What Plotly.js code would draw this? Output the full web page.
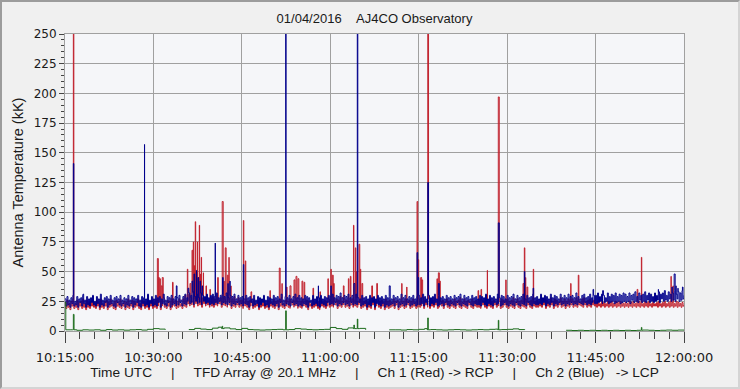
<!DOCTYPE html>
<html><head><meta charset="utf-8">
<script src="https://cdn.plot.ly/plotly-3.0.1.min.js"></script>
<style>
html,body{margin:0;padding:0;background:#F0F0F0;}
#wrap{position:relative;width:740px;height:389px;overflow:hidden;}
#chart{width:740px;height:389px;}
#frame{position:absolute;left:0;top:0;width:740px;height:389px;box-sizing:border-box;border:2px solid;border-color:#9c9c9c #d4d4d4 #d4d4d4 #9c9c9c;pointer-events:none;}
</style></head>
<body>
<div id="wrap"><div id="chart"></div><div id="frame"></div></div>
<script>
// ---------- DATA ----------
const startTime = '2016-01-04 10:15:00';
const endTime = '2016-01-04 12:00:00';
const baseStepSec = 10;   // sample spacing of red/blue baseline arrays
const greenStepSec = 60;  // sample spacing of green baseline array

// Ch 2 (Blue, LCP) baseline, one row = 5 minutes
const blueBase = [
 27,21,29,22,26,20,28,23,30,21,25,22,29,20,27,24,28,21,30,23,26,20,29,22,27,21,28,24,30,22,
 25,21,29,23,27,20,31,22,26,21,28,24,29,20,27,22,30,23,26,21,28,20,29,24,27,22,30,21,26,23,
 28,20,27,22,30,21,26,23,29,20,28,22,27,24,30,21,26,20,29,23,28,21,27,22,31,20,26,23,29,21,
 27,22,30,21,28,24,29,20,27,23,31,22,26,21,29,24,28,20,30,22,27,23,29,21,28,22,30,24,26,21,
 29,23,31,22,28,25,32,23,30,24,33,22,29,25,31,23,28,24,32,22,30,25,29,23,31,24,28,22,30,23,
 31,22,29,24,32,23,28,25,30,22,31,24,29,23,32,22,28,24,30,21,29,23,31,22,27,24,30,22,28,23,
 29,21,27,23,30,22,28,20,29,24,27,21,30,22,26,23,29,20,28,22,27,24,30,21,26,22,29,20,28,23,
 27,22,30,21,28,23,29,20,27,24,31,22,26,21,29,23,28,22,30,21,27,24,29,22,31,23,28,21,30,22,
 28,21,27,23,30,22,29,20,28,24,26,21,30,22,27,23,29,21,28,20,30,23,27,22,29,21,28,24,30,22,
 29,23,31,22,28,24,30,21,29,23,32,22,28,24,30,22,29,23,31,21,28,24,30,22,29,23,31,22,28,24,
 27,21,30,22,28,23,29,20,27,22,30,21,28,24,29,20,27,23,30,22,28,21,29,23,27,20,30,22,28,21,
 29,22,27,23,30,21,28,24,29,20,27,22,31,23,28,21,30,22,27,24,29,21,28,22,30,23,27,21,29,22,
 30,22,28,23,31,21,29,24,27,22,30,21,28,23,29,22,31,24,27,21,30,22,28,23,29,21,27,24,30,22,
 28,21,29,23,27,22,30,21,28,24,29,22,31,21,27,23,30,22,28,21,29,24,27,22,30,21,28,23,29,22,
 27,22,30,21,29,24,28,22,31,21,27,23,30,22,28,21,29,24,27,22,31,23,28,21,30,22,29,24,27,22,
 30,21,28,23,29,22,31,21,27,24,30,22,28,21,29,23,31,22,27,21,30,24,28,22,29,21,31,23,28,22,
 29,22,27,23,31,22,28,24,30,21,29,23,27,22,31,24,28,21,30,23,29,22,27,24,31,22,28,23,30,21,
 28,23,31,22,29,24,30,22,28,23,32,22,29,24,27,23,30,22,31,24,28,22,29,23,31,22,28,24,30,23,
 30,23,32,24,29,25,31,23,30,24,28,25,32,23,29,24,31,25,30,23,32,24,29,25,31,23,30,24,32,25,
 31,24,29,25,32,23,30,26,31,24,33,25,29,24,32,26,30,24,31,25,33,24,30,26,32,24,31,25,29,24,
 32,25,30,26,33,24,31,27,32,25,34,26,30,25,33,27,31,25,32,26,34,25,31,27,33,25,32,26,34,27,
 30
];

// Ch 1 (Red, RCP) baseline, one row = 5 minutes
const redBase = [
 24,19,26,20,23,18,25,21,27,19,23,20,26,18,24,21,25,19,27,20,23,18,26,20,24,19,25,21,27,20,
 23,19,26,21,24,18,27,20,23,19,25,21,26,18,24,20,27,21,23,19,25,18,26,21,24,20,27,19,23,21,
 25,18,24,20,27,19,23,21,26,18,25,20,24,21,27,19,23,18,26,21,25,19,24,20,28,18,23,21,26,19,
 24,20,27,19,25,21,26,18,24,21,28,20,23,19,26,21,25,18,27,20,24,21,26,19,25,20,27,21,23,19,
 27,21,30,20,26,23,31,21,28,22,32,20,27,23,29,21,26,22,31,20,28,23,27,21,30,22,26,20,28,21,
 29,20,27,22,31,21,26,23,28,20,29,22,27,21,30,20,26,22,28,19,27,21,29,20,25,22,28,20,26,21,
 26,19,24,21,27,20,25,18,26,21,24,19,27,20,23,21,26,18,25,20,24,21,27,19,23,20,26,18,25,21,
 24,20,27,19,25,21,26,18,24,21,28,20,23,19,26,21,25,20,27,19,24,22,26,20,28,21,25,19,27,20,
 25,19,24,21,27,20,26,18,25,21,23,19,27,20,24,21,26,19,25,18,27,21,24,20,26,19,25,21,27,20,
 26,21,28,20,25,22,27,19,26,21,29,20,25,22,27,20,26,21,28,19,25,22,27,20,26,21,28,20,25,22,
 24,19,27,20,25,21,26,18,24,20,27,19,25,22,26,18,24,21,27,20,25,19,26,21,24,18,27,20,25,19,
 26,20,24,21,27,19,25,22,26,18,24,20,28,21,25,19,27,20,24,22,26,19,25,20,27,21,24,19,26,20,
 27,20,25,21,28,19,26,22,24,20,27,19,25,21,26,20,28,22,24,19,27,20,25,21,26,19,24,22,27,20,
 25,19,26,21,24,20,27,19,25,22,26,20,28,19,24,21,27,20,25,19,26,22,24,20,27,19,25,21,26,20,
 24,20,27,19,26,22,25,20,28,19,24,21,27,20,25,19,26,22,24,20,28,21,25,19,27,20,26,22,24,20,
 27,19,25,21,26,20,28,19,24,22,27,20,25,19,26,21,28,20,24,19,27,22,25,20,26,19,28,21,25,20,
 26,20,24,21,28,20,25,22,27,19,26,21,24,20,28,22,25,19,27,21,26,20,24,22,28,20,25,21,27,19,
 25,21,27,20,26,22,27,20,25,21,28,20,26,22,24,21,27,20,28,22,25,20,26,21,27,20,25,22,26,21,
 24,20,25,21,23,20,25,21,24,20,23,21,25,20,24,21,25,20,23,21,25,20,24,21,25,20,24,21,23,20,
 24,21,23,20,25,21,24,20,25,21,23,20,24,21,25,20,24,21,23,20,25,21,24,20,25,21,23,20,24,21,
 23,21,24,20,25,21,23,20,24,21,25,20,23,21,24,20,25,21,24,20,23,21,25,20,24,21,23,20,24,21,
 22
];

// Green trace, one value per minute from 10:15 to 12:00 (null = no data)
const greenBase = [
 24,
 1,0.6,1,0.8,1,0.6,1.2,0.8,1,0.7,1,1.2,0.8,1.4,
 2,1.6,1,null,null,null,
 1.2,2.2,1.6,1.2,2.4,3.2,2.6,1.8,1.2,2.2,
 1.2,1,0.8,1,1.2,1.4,1,1.2,2,1.6,1.2,1,1.2,1.4,
 3,2,1.4,2.6,4,2.2,1,null,null,null,
 1,1,0.8,1.2,1,1.4,2,1.2,1,0.8,1,1.2,1,0.8,1,1.2,1,1.4,1.6,
 1.2,1.4,1.8,1.2,1,
 null,null,null,null,null,null,
 0.6,0.4,0.6,0.4,0.6,0.4,0.6,0.4,0.6,0.4,0.6,0.4,0.6,0.8,0.6,0.4,0.6,0.8,0.6,0.8,0.6
];

// Bursts / spikes (time UTC, kK)
const redSpikeTimes = ['10:16:25','10:30:40','10:30:50','10:31:07','10:31:20','10:31:30','10:33:14','10:35:45','10:36:12','10:36:33','10:36:46','10:36:56','10:37:06','10:37:16','10:37:27','10:37:36','10:37:47','10:37:58','10:38:07','10:38:28','10:38:55','10:39:35','10:40:54','10:41:40','10:41:58','10:42:11','10:42:32','10:42:49','10:43:09','10:45:15','10:45:35','10:46:33','10:49:46','10:51:21','10:51:49','10:52:35','10:53:10','10:53:51','10:54:11','10:54:31','10:55:12','10:55:33','10:57:04','10:58:15','10:59:36','11:00:06','11:00:21','11:00:33','11:02:13','11:03:04','11:03:24','11:03:56','11:04:15','11:04:25','11:04:52','11:05:06','11:05:22','11:07:02','11:07:53','11:12:07','11:12:58','11:14:43','11:14:53','11:15:20','11:15:30','11:16:32','11:18:06','11:18:20','11:18:30','11:25:04','11:25:34','11:26:38','11:28:30','11:29:46','11:32:42','11:32:55','11:33:07','11:33:22','11:34:26','11:40:47','11:42:04','11:52:03','11:52:46','11:57:48','11:58:08'];
const redSpikeVals = [400,61,45,44,38,45,41,52,40,68,75,55,92,50,75,45,89,48,62,49,38,35,45,109,42,70,47,62,38,93,59,33,34,53,40,37,38,43,46,44,42,41,36,33,44,52,47,40,38,44,46,89,70,50,73,52,40,38,40,40,37,109,60,45,43,400,44,49,42,34,35,51,197,43,40,70,45,37,52,40,47,35,62,46,38];

const blueSpikeTimes = ['10:16:25','10:18:03','10:28:29','10:33:53','10:35:52','10:36:33','10:36:53','10:37:18','10:37:33','10:37:54','10:38:15','10:40:29','10:41:43','10:42:39','10:42:59','10:45:15','10:52:26','10:57:58','11:00:06','11:04:00','11:04:35','11:10:00','11:14:43','11:14:53','11:16:32','11:18:20','11:28:30','11:32:55','11:34:24','11:44:34','11:46:12','11:55:39','11:57:58','11:58:20','11:58:38','11:58:58','11:59:44'];
const blueSpikeVals = [141,31,157,38,36,42,48,51,45,42,38,74,45,40,42,56,400,38,38,40,400,38,66,45,125,40,91,50,36,35,34,35,37,48,38,36,37];

const greenSpikeTimes = ['10:15:08','10:16:18','10:16:25','10:16:32','10:41:35','10:41:40','10:41:45','10:52:20','10:52:26','10:52:32','11:03:55','11:04:00','11:04:05','11:04:30','11:04:35','11:04:40','11:16:27','11:16:32','11:16:37','11:28:25','11:28:30','11:28:35','11:52:41','11:52:46','11:52:51'];
const greenSpikeVals = [1,1,14,1,2,4,2,1,17,1,2,5,2,2,10,2,1,11,1,1,9,1,0.6,3,0.6];

const xAxisTitle = 'Time UTC\u00a0\u00a0\u00a0\u00a0\u00a0|\u00a0\u00a0\u00a0\u00a0\u00a0TFD Array @ 20.1 MHz\u00a0\u00a0\u00a0\u00a0\u00a0|\u00a0\u00a0\u00a0\u00a0\u00a0Ch 1 (Red) -> RCP\u00a0\u00a0\u00a0\u00a0\u00a0|\u00a0\u00a0\u00a0\u00a0\u00a0Ch 2 (Blue)\u00a0\u00a0\u00a0-> LCP';
const yAxisTitle = 'Antenna Temperature (kK)';
const chartTitle = '01/04/2016\u00a0\u00a0\u00a0\u00a0AJ4CO Observatory';

// ---------- BUILD ----------
function pad(n){return (n<10?'0':'')+n;}
function fmt(sec){
  const tot = 10*3600 + 15*60 + sec;
  const h = Math.floor(tot/3600), m = Math.floor((tot%3600)/60), s = tot%60;
  return '2016-01-04 '+pad(h)+':'+pad(m)+':'+pad(s);
}
function secOf(hms){const p=hms.split(':').map(Number);return (p[0]-10)*3600+(p[1]-15)*60+p[2];}
function merge(base, step, spT, spV){
  const pts = base.map((v,i)=>[i*step, v, 0]);
  spT.forEach((t,i)=>pts.push([secOf(t), spV[i], 1]));
  pts.sort((a,b)=>a[0]-b[0] || a[2]-b[2]);
  return {x: pts.map(p=>fmt(p[0])), y: pts.map(p=>p[1])};
}
const R = merge(redBase, baseStepSec, redSpikeTimes, redSpikeVals);
const B = merge(blueBase, baseStepSec, blueSpikeTimes, blueSpikeVals);
const G = merge(greenBase, greenStepSec, greenSpikeTimes, greenSpikeVals);

const traces = [
  {type:'scatter', mode:'lines', x:R.x, y:R.y, line:{color:'#C0222E', width:1, shape:'hv', simplify:false}, name:'Ch 1'},
  {type:'scatter', mode:'lines', x:B.x, y:B.y, line:{color:'#00008C', width:1, shape:'hv', simplify:false}, name:'Ch 2'},
  {type:'scatter', mode:'lines', x:G.x, y:G.y, line:{color:'#1B6B1B', width:1, shape:'hv', simplify:false}, name:'Diff', connectgaps:false}
];

const gridC = '#A0A0A0';
const layout = {
  width:740, height:389,
  paper_bgcolor:'#F0F0F0', plot_bgcolor:'#F5F6F9',
  margin:{l:65, r:56, t:34, b:58},
  showlegend:false,
  title:{text:chartTitle, font:{family:'Liberation Sans, Arial, sans-serif', size:13, color:'#1a1a1a'},
         x:0.5, xref:'paper', xanchor:'center', y:1-18/389, yref:'container', yanchor:'middle'},
  xaxis:{type:'date', range:[startTime, endTime], tick0:startTime, dtick:900000, tickformat:'%H:%M:%S',
         ticks:'outside', ticklen:11, tickwidth:1, tickcolor:'#444', ticklabelstandoff:3,
         minor:{dtick:150000, ticks:'outside', ticklen:7, tickwidth:1, tickcolor:'#444', showgrid:false},
         showgrid:true, gridcolor:gridC, gridwidth:1, zeroline:false,
         showline:true, linecolor:gridC, linewidth:1, mirror:true,
         tickfont:{family:'DejaVu Sans, sans-serif', size:13, color:'#1a1a1a'},
         title:{text:xAxisTitle, font:{family:'Liberation Sans, Arial, sans-serif', size:13.7, color:'#1a1a1a'}, standoff:3}},
  yaxis:{range:[0,250], tick0:0, dtick:25,
         ticks:'outside', ticklen:5, tickwidth:1, tickcolor:'#444',
         minor:{dtick:5, ticks:'outside', ticklen:3, tickwidth:1, tickcolor:'#444', showgrid:false},
         showgrid:true, gridcolor:gridC, gridwidth:1, zeroline:false,
         showline:true, linecolor:gridC, linewidth:1, mirror:true,
         tickfont:{family:'DejaVu Sans, sans-serif', size:12, color:'#1a1a1a'},
         title:{text:yAxisTitle, font:{family:'Liberation Sans, Arial, sans-serif', size:14.5, color:'#1a1a1a'}, standoff:6}}
};
Plotly.newPlot('chart', traces, layout, {staticPlot:true, displayModeBar:false});
</script>
</body></html>
